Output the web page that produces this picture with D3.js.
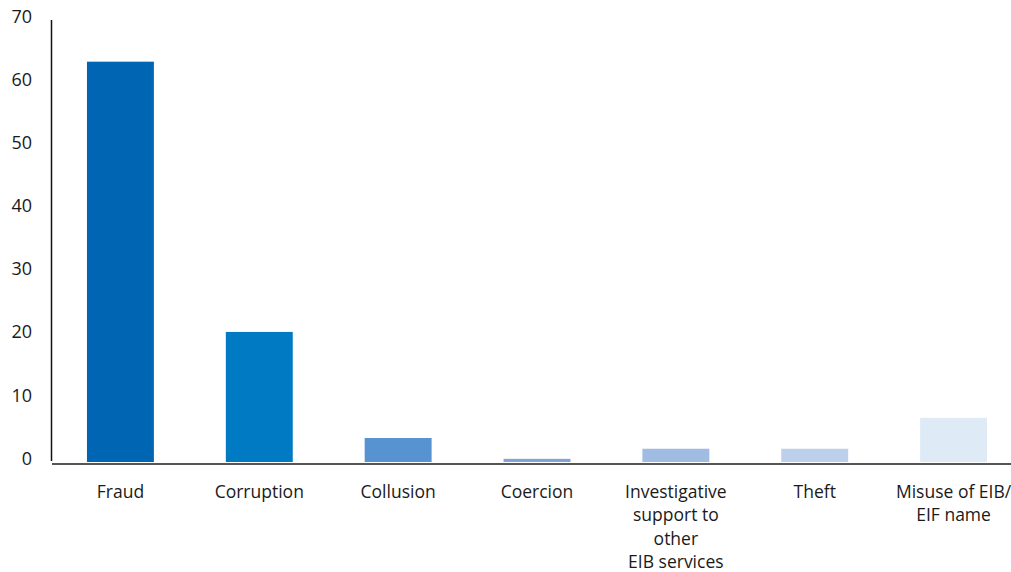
<!DOCTYPE html>
<html>
<head>
<meta charset="utf-8">
<script src="https://cdn.jsdelivr.net/npm/d3@7"></script>
<style>
    body { margin: 0; background: #fff; }
    text { font-family: "Open Sans", "Noto Sans", sans-serif; fill: #1a1a1a; }
</style>
</head>
<body>
<svg id="chart" width="1011" height="572"></svg>
<script>
// shares of cases by type
var categories = ["Fraud", "Corruption", "Collusion", "Coercion",
    "Investigative support to other EIB services", "Theft", "Misuse of EIB/ EIF name"];
var labelLines = [["Fraud"], ["Corruption"], ["Collusion"], ["Coercion"],
    ["Investigative", "support to", "other", "EIB services"], ["Theft"], ["Misuse of EIB/", "EIF name"]];
var values = [63.4, 20.6, 3.8, 0.5, 2.1, 2.1, 7.0];
var yTicks = [0, 10, 20, 30, 40, 50, 60, 70];
var colors = ["#0066b3", "#007ac3", "#5693d0", "#80a4d9", "#a1bce3", "#bdcfeb", "#deebf6"];

var svg = d3.select("#chart");

var margin = {top: 20, left: 51, bottom: 110, right: 0},
    width = 1011,
    height = 572;

var x = d3.scaleBand()
    .domain(categories)
    .range([margin.left, 1023])
    .paddingInner(0.518)
    .paddingOuter(0.259);

var y = d3.scaleLinear()
    .domain([0, 70])
    .range([height - margin.bottom, margin.top]);

var z = d3.scaleOrdinal()
    .domain(categories)
    .range(colors);

// bars
svg.append("g")
    .selectAll("rect")
    .data(values)
    .enter().append("rect")
    .attr("x", function(d, i){ return x(categories[i]) })
    .attr("y", function(d){ return y(d) })
    .attr("width", x.bandwidth())
    .attr("height", function(d){ return y(0) - y(d) })
    .attr("fill", function(d, i){ return z(categories[i]) });

// y axis
var yAxis = svg.append("g")
    .attr("class", "y-axis")
    .attr("transform", `translate(${margin.left},0)`)
    .call(d3.axisLeft(y).tickValues(yTicks).tickSize(0).tickPadding(19));

yAxis.select(".domain")
    .attr("d", `M0.5,${y(70)}V${y(0) - 1}`)
    .attr("stroke", "#111")
    .attr("stroke-width", 1.5);

yAxis.selectAll("text")
    .attr("dy", "0.12em")
    .style("font-size", "18px");

// baseline
svg.append("line")
    .attr("x1", margin.left + 1)
    .attr("x2", width)
    .attr("y1", y(0) + 2)
    .attr("y2", y(0) + 2)
    .attr("stroke", "#555")
    .attr("stroke-width", 2);

// category labels
var labels = svg.append("g")
    .selectAll("text")
    .data(labelLines)
    .enter().append("text")
    .attr("text-anchor", "middle")
    .attr("x", function(d, i){ return x(categories[i]) + x.bandwidth() / 2 })
    .attr("y", y(0) + 36)
    .style("font-size", "17.5px");

labels.selectAll("tspan")
    .data(function(d){ return d })
    .enter().append("tspan")
    .attr("x", function(){ return d3.select(this.parentNode).attr("x") })
    .attr("dy", function(d, i){ return i === 0 ? 0 : 23.3 })
    .text(function(d){ return d });
</script>
</body>
</html>
